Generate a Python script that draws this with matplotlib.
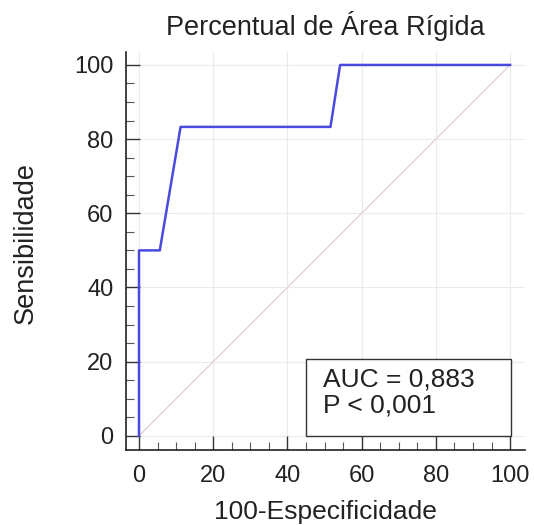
import matplotlib
matplotlib.use("Agg")
import matplotlib.pyplot as plt
from matplotlib.ticker import MultipleLocator
from matplotlib.patches import Rectangle

plt.rcParams['font.family'] = ['Liberation Sans', 'DejaVu Sans']

fpr = [0, 0, 5.6, 11.2, 51.6, 54.2, 100]
tpr = [0, 50, 50, 83.3, 83.3, 100, 100]
ticks = [0, 20, 40, 60, 80, 100]
title = "Percentual de Área Rígida"
xlabel = "100-Especificidade"
ylabel = "Sensibilidade"
auc_text = "AUC = 0,883\nP < 0,001"

fig = plt.figure(figsize=(5.34, 5.25), dpi=100)
ax = fig.add_axes([0.236, 0.143, 0.747, 0.758])

ax.set_xlim(-3.5, 104)
ax.set_ylim(-3.8, 103.5)

for t in ticks:
    ax.axvline(t, color='#ebebeb', lw=0.8, zorder=0)
    ax.axhline(t, color='#ebebeb', lw=0.8, zorder=0)

ax.plot([0, 100], [0, 100], color='#e6cccc', lw=0.9, zorder=1)
ax.plot(fpr, tpr, color='#4a4adf', lw=1.8, zorder=3)

ax.add_patch(Rectangle((45, 0), 55.3, 20.8, fill=True, facecolor='white',
                       edgecolor='#333333', lw=1.0, zorder=4))
ax.text(49.5, 18.5, auc_text, fontsize=19, va='top', ha='left',
        linespacing=1.1, color='#222222', zorder=5)

for s in ['top', 'right']:
    ax.spines[s].set_visible(False)
for s in ['left', 'bottom']:
    ax.spines[s].set_linewidth(1.2)
    ax.spines[s].set_color('#222222')

ax.set_xticks(ticks)
ax.set_yticks(ticks)
ax.xaxis.set_minor_locator(MultipleLocator(5))
ax.yaxis.set_minor_locator(MultipleLocator(5))
ax.tick_params(which='major', direction='in', length=10, width=1.0, color='#333333',
               labelsize=17, labelcolor='#222222', pad=9)
ax.tick_params(axis='x', which='major', pad=11)
ax.tick_params(which='minor', direction='in', length=6, width=0.8, color='#555555')

ax.set_title(title, fontsize=19.5, color='#222222', pad=12)
ax.set_xlabel(xlabel, fontsize=19, color='#222222', labelpad=9)
ax.set_ylabel(ylabel, fontsize=19.5, color='#222222')
ax.yaxis.set_label_coords(-0.218, 0.52)

fig.savefig("out.png", dpi=100, facecolor='white')
